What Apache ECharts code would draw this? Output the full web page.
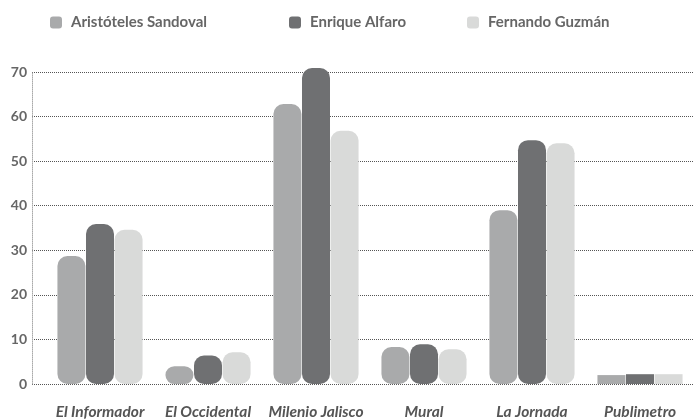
<!DOCTYPE html>
<html><head><meta charset="utf-8">
<script src="https://cdn.jsdelivr.net/npm/echarts@6/dist/echarts.min.js"></script>
<style>html,body{margin:0;padding:0;background:#fff}#c{width:694px;height:420px}</style>
</head><body><div id="c"></div>
<script>
const categories = ['El Informador','El Occidental','Milenio Jalisco','Mural','La Jornada','Publimetro'];
const seriesNames = ['Aristóteles Sandoval','Enrique Alfaro','Fernando Guzmán'];
const sandoval = [28.7, 4.0, 62.8, 8.3, 39.0, 2.0];
const alfaro   = [35.9, 6.4, 70.9, 8.9, 54.7, 2.2];
const guzman   = [34.6, 7.1, 56.8, 7.8, 54.0, 2.2];
const yTicks = [0,10,20,30,40,50,60,70];
const colors = ['#a9aaab','#6f7072','#d9dad9'];
const values = [sandoval, alfaro, guzman];

const chart = echarts.init(document.getElementById('c'));
const font = 'Lato';
const legendLefts = [45, 284, 462];
chart.setOption({
  animation:false,
  legend: seriesNames.map((n,i)=>({
    data:[n], left:legendLefts[i], top:10, itemWidth:12, itemHeight:12, itemGap:0,
    icon:'roundRect',
    textStyle:{fontFamily:font,fontWeight:'bold',fontSize:15,color:'#666',padding:[0,0,0,4]}
  })),
  grid:[
    {left:32,right:0,top:72,bottom:36},
    {left:46,right:-6,top:72,bottom:36}
  ],
  xAxis:[
    {gridIndex:0,type:'category',data:categories,show:false},
    {gridIndex:1,type:'category',data:categories,
     axisLine:{show:false},axisTick:{show:false},
     axisLabel:{interval:0,margin:20,fontFamily:font,fontStyle:'italic',fontWeight:'bold',fontSize:15.5,color:'#555'}}
  ],
  yAxis:[
    {gridIndex:0,type:'value',min:yTicks[0],max:yTicks[yTicks.length-1],interval:10,
     axisLine:{show:true,lineStyle:{color:'#aaa',type:'dotted',width:1}},
     axisTick:{show:false},
     axisLabel:{margin:5,fontFamily:font,fontWeight:'bold',fontSize:14,color:'#666'},
     splitLine:{show:true,lineStyle:{color:'#555',type:'dotted',width:1}}},
    {gridIndex:1,type:'value',min:yTicks[0],max:yTicks[yTicks.length-1],interval:10,show:false,splitLine:{show:false}}
  ],
  series: seriesNames.map((n,i)=>({
    name:n, type:'bar', xAxisIndex:1, yAxisIndex:1, clip:false,
    barWidth:28, barGap:'2%',
    itemStyle:{color:colors[i]},
    data: values[i].map(v=>({value:v,itemStyle:{borderRadius: v<3?0:10}}))
  }))
});
</script></body></html>
